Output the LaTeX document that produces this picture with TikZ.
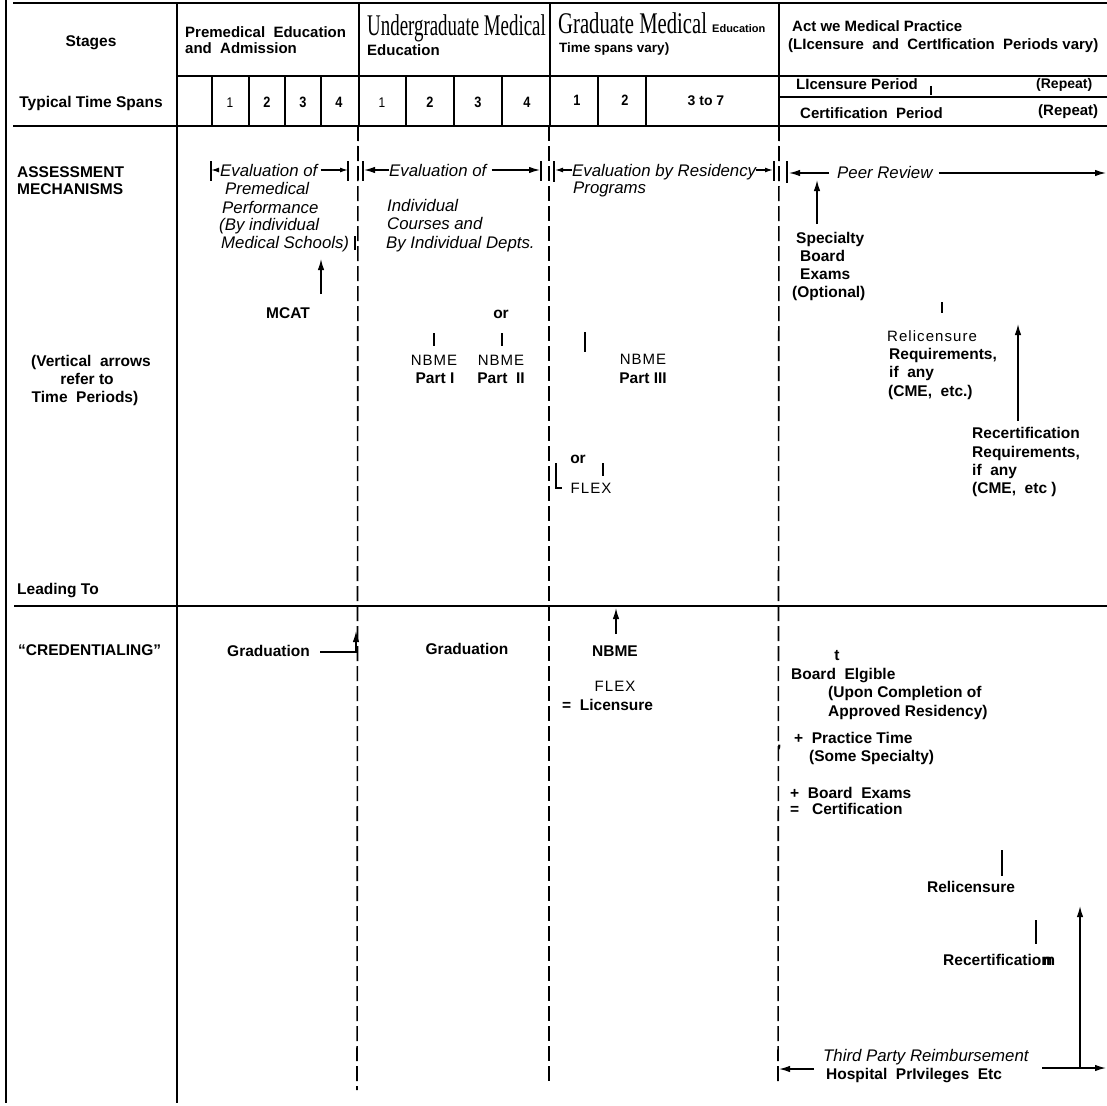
\documentclass[tikz,border=0pt]{standalone}
\usepackage{fontspec}
\usepackage{graphicx}
\setmainfont{Liberation Sans}
\newfontfamily\serifhd{Liberation Serif}
\newfontfamily\wideface[LetterSpace=7]{Liberation Sans}
\usetikzlibrary{arrows.meta}
\tikzset{
  lblb/.style={font=\bfseries\fontsize{15.5}{18}\selectfont, inner sep=0pt, anchor=base west},
  lblbc/.style={lblb, anchor=base},
  lblh/.style={font=\bfseries\fontsize{15}{17}\selectfont, inner sep=0pt, anchor=base west},
  lbli/.style={font=\itshape\fontsize{16.8}{19}\selectfont, inner sep=0pt, anchor=base west},
  lblr/.style={font=\wideface\fontsize{15}{17}\selectfont, inner sep=0pt, anchor=base},
  numb/.style={font=\bfseries\fontsize{15}{17}\selectfont, inner sep=0pt, anchor=base},
  hdserif/.style={font=\serifhd\fontsize{30}{32}\selectfont, inner sep=0pt, anchor=base west},
  frm/.style={line width=2pt},
  thin/.style={line width=1.5pt},
  dsh/.style={line width=1.6pt, dash pattern=on 15pt off 5pt},
  tick/.style={line width=1.5pt},
  arr/.style={line width=1.4pt, -{Latex[length=11pt,width=6.5pt]}},
  sarr/.style={line width=1.3pt, -{Latex[length=8pt,width=5pt]}},
}
\begin{document}
\begin{tikzpicture}[x=1pt,y=-1pt]
\useasboundingbox (0,0) rectangle (1107,1105);
\fill[white] (0,0) rectangle (1107,1105);

% ---------------- frame and grid ----------------
\draw[frm] (6,0) -- (6,1103);
\draw[frm] (13,3.5) -- (1107,3.5);
\draw[thin] (177,76) -- (1107,76);
\draw[frm] (13,126) -- (1107,126);
\draw[frm] (14,606) -- (1107,606);
\draw[thin] (177,3) -- (177,1103);
\draw[thin] (359,3) -- (359,126);
\draw[thin] (550,3) -- (550,126);
\draw[thin] (779,3) -- (779,126);
\draw[dsh] (358,126) -- (357,1090);
\draw[dsh] (549,126) -- (549,1085);
\draw[dsh] (779,126) -- (778,1085);
% time span cells
\foreach \xx in {212,249,285,321,406,454,502,598,646}
  \draw[thin] (\xx,76) -- (\xx,126);
\draw[thin] (779,97) -- (1107,97);

% ---------------- header texts ----------------
\node[lblbc] (stages) at (91,47) {Stages};
\node[lblbc] (tts) at (91,107) {Typical Time Spans};
\node[lblh] (pre1) at (185,38) {Premedical\ \ Education};
\node[lblh] (pre2) at (185,54) {and\ \ Admission};
\node[hdserif] (ug1) at (367,36) {\scalebox{0.63}[1]{Undergraduate Medical}};
\node[lblh] (ug2) at (367,56) {Education};
\node[hdserif, text depth=0pt] (gr1) at (558,34) {\scalebox{0.69}[1]{Graduate Medical}};
\node[font=\bfseries\fontsize{11}{12}\selectfont, inner sep=0pt, anchor=base west] (gr2) at (712,33) {Education};
\node[lblh, font=\bfseries\fontsize{13.5}{16}\selectfont] (gr3) at (559,53) {Time spans vary)};
\node[lblh] (ap1) at (792,32) {Act we Medical Practice};
\node[lblh] (ap2) at (788,50) {(LIcensure\ \ and\ \ CertIfication\ \ Periods vary)};

% time span numbers
\node[numb, font=\fontsize{14}{15}\selectfont] (p1) at (230,107) {\scalebox{0.85}[1]{1}};
\node[numb] (p2) at (267,107) {\scalebox{0.85}[1]{2}};
\node[numb] (p3) at (303,107) {\scalebox{0.85}[1]{3}};
\node[numb] (p4) at (339,107) {\scalebox{0.85}[1]{4}};
\node[numb, font=\fontsize{14}{15}\selectfont] (u1) at (382,107) {\scalebox{0.85}[1]{1}};
\node[numb] (u2) at (430,107) {\scalebox{0.85}[1]{2}};
\node[numb] (u3) at (478,107) {\scalebox{0.85}[1]{3}};
\node[numb] (u4) at (527,107) {\scalebox{0.85}[1]{4}};
\node[numb] (g1) at (577,106) {\scalebox{0.85}[1]{1}};
\node[numb] (g2) at (625,106) {\scalebox{0.85}[1]{2}};
\node[numb, font=\bfseries\fontsize{14}{15}\selectfont] (g3) at (706,106) {3 to 7};
\node[lblh] (lp) at (796,90) {LIcensure Period};
\draw[tick] (931,86) -- (931,95);
\node[lblh, font=\bfseries\fontsize{14}{16}\selectfont] (rp1) at (1036,89) {(Repeat)};
\node[lblh] (cp) at (800,118) {Certification\ \ Period};
\node[lblh] (rp2) at (1038,116) {(Repeat)};

% ---------------- assessment row ----------------
\node[lblb] (as1) at (17,177) {ASSESSMENT};
\node[lblb] (as2) at (17,194) {MECHANISMS};
\node[lblbc] (va1) at (91,366) {(Vertical\ \ arrows};
\node[lblbc] (va2) at (87,384) {refer to};
\node[lblbc] (va3) at (85,402) {Time\ \ Periods)};
\node[lblb] (lt) at (17,594) {Leading To};

% premedical evaluation
\node[lbli] (evp) at (220,176) {Evaluation of};
\coordinate (evpL) at (211,170);
\coordinate (evpR) at (348,170);
\draw[tick] (211,161) -- (211,181);
\draw[tick] (348,161) -- (348,181);
\draw[sarr] ([xshift=-1pt]evp.west |- evpL) -- (evpL);
\draw[sarr] ([xshift=3pt]evp.east |- evpR) -- (evpR);
\node[lbli] (evp1) at (225,194) {Premedical};
\node[lbli] (evp2) at (222,213) {Performance};
\node[lbli] (evp3) at (219,230) {(By individual};
\node[lbli] (evp4) at (221,248) {Medical Schools)};
\draw[tick] (355,236) -- (355,250);
\node[lblbc] (mcat) at (288,318) {MCAT};
\coordinate (mcatA) at (321,294);
\draw[arr] (mcatA) -- (321,259);

% undergraduate evaluation
\draw[tick] (363,161) -- (363,181);
\node[lbli] (evu) at (389,176) {Evaluation of};
\coordinate (evuL) at (364,170);
\coordinate (evuR) at (540,170);
\draw[arr] (evu.west |- evuL) -- (evuL);
\draw[arr] ([xshift=5pt]evu.east |- evuR) -- (evuR);
\draw[tick] (541,161) -- (541,181);
\node[lbli] (evu1) at (387,211) {Individual};
\node[lbli] (evu2) at (387,229) {Courses and};
\node[lbli] (evu3) at (386,248) {By Individual Depts.};
\node[lblbc] (or1) at (501,318) {or};
\draw[tick] (434,333) -- (434,346);
\draw[tick] (502,333) -- (502,346);
\node[lblr] (nb1) at (434,365) {NBME};
\node[lblbc] (pt1) at (435,383) {Part I};
\node[lblr] (nb2) at (501,365) {NBME};
\node[lblbc] (pt2) at (501,383) {Part\ \ II};

% graduate evaluation
\draw[tick] (554,161) -- (554,182);
\node[lbli] (evg) at (572,176) {Evaluation by Residency};
\coordinate (evgL) at (555,170);
\coordinate (evgR) at (773,170);
\draw[sarr] (evg.west |- evgL) -- (evgL);
\draw[sarr] (evg.east |- evgR) -- (evgR);
\draw[tick] (774,161) -- (774,181);
\node[lbli] (evg1) at (573,193) {Programs};
\draw[tick] (585,332) -- (585,352);
\node[lblr] (nb3) at (643,364) {NBME};
\node[lblbc] (pt3) at (643,383) {Part III};
\node[lblbc] (or2) at (578,463) {or};
\draw[tick] (556,463) -- (556,488) -- (562,488);
\draw[tick] (603,463) -- (603,476);
\node[lblr] (flex1) at (591,493) {FLEX};

% active practice
\draw[tick] (787,161) -- (787,183);
\node[lbli] (peer) at (837,178) {Peer Review};
\coordinate (peerL) at (789,173);
\coordinate (peerR) at (1106,173);
\draw[arr] ([xshift=-8pt]peer.west |- peerL) -- (peerL);
\draw[arr] ([xshift=6pt]peer.east |- peerR) -- (peerR);
\coordinate (sbA) at (817,224);
\draw[arr] (sbA) -- (817,180);
\node[lblb] (sb1) at (796,243) {Specialty};
\node[lblb] (sb2) at (800,261) {Board};
\node[lblb] (sb3) at (800,279) {Exams};
\node[lblb] (sb4) at (792,297) {(Optional)};
\draw[tick] (942,302) -- (942,313);
\node[lblr, anchor=base west] (rl1) at (887,341) {Relicensure};
\node[lblb] (rl2) at (889,359) {Requirements,};
\node[lblb] (rl3) at (889,377) {if\ \ any};
\node[lblb] (rl4) at (888,396) {(CME,\ \ etc.)};
\coordinate (rcA) at (1018,421);
\draw[arr] (rcA) -- (1018,324);
\node[lblb] (rc1) at (972,438) {Recertification};
\node[lblb] (rc2) at (972,457) {Requirements,};
\node[lblb] (rc3) at (972,475) {if\ \ any};
\node[lblb] (rc4) at (972,493) {(CME,\ \ etc\ )};

% ---------------- credentialing row ----------------
\node[lblb] (cred) at (18,655) {``CREDENTIALING''};
\node[lblb] (grd1) at (227,656) {Graduation};
\coordinate (grdC) at (356,652);
\draw[arr] ([xshift=10pt]grd1.east |- grdC) -- (grdC) -- (356,631);
\node[lblbc] (grd2) at (467,654) {Graduation};
\coordinate (nbA) at (616,634);
\draw[arr] (nbA) -- (616,608);
\node[lblbc] (nb4) at (615,656) {NBME};
\node[lblr] (flex2) at (615,691) {FLEX};
\node[lblb] (lic) at (562,710) {=\ \ Licensure};

\node[lblbc] (tt) at (837,660) {t};
\node[lblb] (be1) at (791,679) {Board\ \ Elgible};
\node[lblb] (be2) at (828,697) {(Upon Completion of};
\node[lblb] (be3) at (828,716) {Approved Residency)};
\node[lblb] (cm) at (777,747) {,};
\node[lblb] (pr1) at (794,743) {+ \ Practice Time};
\node[lblb] (pr2) at (809,761) {(Some Specialty)};
\node[lblb] (bx1) at (790,798) {+ \ Board\ \ Exams};
\node[lblb] (bx2) at (790,814) {= \ \ Certification};
\draw[tick] (1002,850) -- (1002,876);
\node[lblbc] (relic) at (971,892) {Relicensure};
\draw[tick] (1036,920) -- (1036,944);
\node[lblb] (recert) at (943,965) {Recertificatio\rlap{m}\kern1.5pt n};
\node[lbli] (tp1) at (823,1061) {Third Party Reimbursement};
\node[lblb] (tp2) at (826,1079) {Hospital\ \ PrIvileges\ \ Etc};
\coordinate (tpL) at (779,1069);
\draw[arr] ([xshift=-12pt]tp2.west |- tpL) -- (tpL);
\coordinate (tpR) at (1106,1068);
\coordinate (tpC) at (1080,1068);
\draw[arr] ([xshift=40pt]tp2.east |- tpR) -- (tpR);
\draw[arr] (tpC) -- (1080,906);
\end{tikzpicture}
\end{document}
